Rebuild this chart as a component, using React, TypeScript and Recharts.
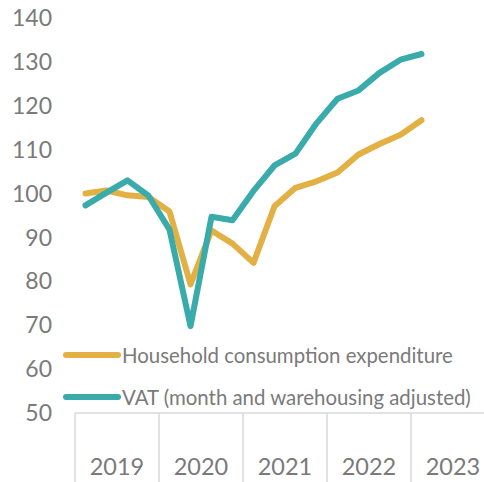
import React from "react";
import { LineChart, Line, XAxis, YAxis, Legend } from "recharts";

const quarters = [
  "2019Q1","2019Q2","2019Q3","2019Q4",
  "2020Q1","2020Q2","2020Q3","2020Q4",
  "2021Q1","2021Q2","2021Q3","2021Q4",
  "2022Q1","2022Q2","2022Q3","2022Q4",
  "2023Q1","2023Q2","2023Q3","2023Q4",
];
const household: (number | null)[] = [100, 100.7, 99.6, 99.2, 95.9, 79.3, 91.6, 88.6, 84.2, 97.1, 101.3, 102.8, 104.8, 108.9, 111.3, 113.4, 116.7, null, null, null];
const vat: (number | null)[] = [97.3, 100.2, 103, 99.5, 91.8, 69.8, 94.7, 93.9, 100.6, 106.4, 109.1, 116, 121.6, 123.5, 127.5, 130.5, 131.8, null, null, null];
const yTicks = [50, 60, 70, 80, 90, 100, 110, 120, 130, 140];

const seriesNames = ["Household consumption expenditure", "VAT (month and warehousing adjusted)"];
const GOLD = "#E3B044";
const TEAL = "#3AABAB";
const FONT = "Lato, sans-serif";
const GRAY = "#7a7a7a";
const AXIS = "#d9d9d9";

const data = quarters.map((q, i) => ({ q, household: household[i], vat: vat[i] }));

const CHART_W = 500;
const CHART_H = 482;
const MARGIN = { top: 18, right: 5, bottom: 0, left: 0 };
const Y_W = 75;
const BAND = (CHART_W - MARGIN.left - MARGIN.right - Y_W) / quarters.length;

const YearTick = (props: any) => {
  const { x, y, payload } = props;
  const idx = payload.index;
  if (idx % 4 !== 0) return null;
  const start = x - BAND / 2;
  const year = String(payload.value).slice(0, 4);
  return (
    <g>
      <line x1={start} x2={start} y1={y} y2={y + 75} stroke={AXIS} strokeWidth={1.5} />
      <text x={start + BAND * 2} y={y + 62} textAnchor="middle" fontFamily={FONT} fontSize={23.5} fill={GRAY}>
        {year}
      </text>
    </g>
  );
};

const LegendContent = () => (
  <div style={{ fontFamily: FONT }}>
    {[GOLD, TEAL].map((c, i) => (
      <div key={i} style={{ display: "flex", alignItems: "center", height: 42 }}>
        <svg width={60} height={10} style={{ display: "block" }}>
          <line x1={4} x2={56} y1={5} y2={5} stroke={c} strokeWidth={6} strokeLinecap="round" />
        </svg>
        <span style={{ fontSize: 20.4, color: GRAY, whiteSpace: "nowrap", marginLeft: 0 }}>{seriesNames[i]}</span>
      </div>
    ))}
  </div>
);

export default function App() {
  return (
    <div style={{ position: "absolute", left: 0, top: 0, width: 484, height: 482, overflow: "hidden", background: "#fff" }}>
      <LineChart width={CHART_W} height={CHART_H} data={data} margin={MARGIN}>
        <XAxis
          dataKey="q"
          scale="band"
          interval={0}
          tickLine={false}
          tickSize={0}
          tickMargin={0}
          height={69}
          axisLine={{ stroke: AXIS, strokeWidth: 1.5 }}
          tick={<YearTick />}
        />
        <YAxis
          domain={[50, 140]}
          ticks={yTicks}
          width={Y_W}
          axisLine={false}
          tickLine={false}
          tickSize={0}
          tickMargin={23}
          tick={{ fontFamily: FONT, fontSize: 23, fill: GRAY }}
        />
        <Legend
          layout="vertical"
          align="center"
          verticalAlign="middle"
          content={<LegendContent />}
          wrapperStyle={{ position: "absolute", left: 62, top: 334, width: "auto", height: "auto" }}
        />
        <Line dataKey="household" stroke={GOLD} strokeWidth={6} dot={false} isAnimationActive={false} strokeLinejoin="round" strokeLinecap="round" />
        <Line dataKey="vat" stroke={TEAL} strokeWidth={6} dot={false} isAnimationActive={false} strokeLinejoin="round" strokeLinecap="round" />
      </LineChart>
    </div>
  );
}
